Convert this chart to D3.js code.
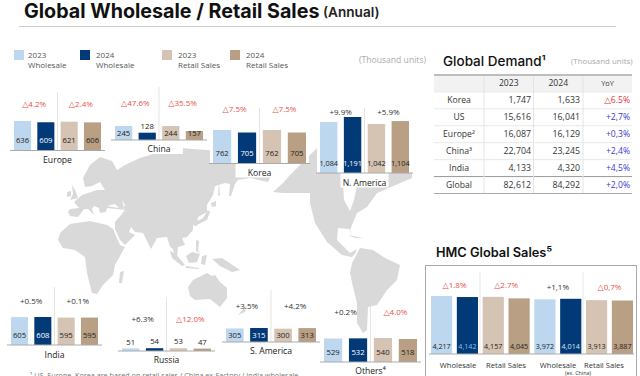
<!DOCTYPE html>
<html>
<head>
<meta charset="utf-8">
<script src="https://cdn.jsdelivr.net/npm/d3@7"></script>
<style>
  html, body { margin: 0; padding: 0; background: #fff; overflow: hidden; }
  text { font-family: "Open Sans", "DejaVu Sans", sans-serif; }
</style>
</head>
<body>
<div id="chart-area"></div>
<script>
// chart values
var seriesNames = ["2023 Wholesale", "2024 Wholesale", "2023 Retail Sales", "2024 Retail Sales"];
var seriesColors = ["#bdd7ee", "#023a78", "#d5c3b3", "#b99f84"];

var regionNames = ["Europe", "China", "Korea", "N. America", "India", "Russia", "S. America", "Others⁴"];
var wholesale2023 = [636, 245, 762, 1084, 605, 51, 305, 529];
var wholesale2024 = [609, 128, 705, 1191, 608, 54, 315, 532];
var retail2023 = [621, 244, 762, 1042, 595, 53, 300, 540];
var retail2024 = [606, 157, 705, 1104, 595, 47, 313, 518];
var wholesaleYoY = ["△4.2%", "△47.6%", "△7.5%", "+9.9%", "+0.5%", "+6.3%", "+3.5%", "+0.2%"];
var retailYoY = ["△2.4%", "△35.5%", "△7.5%", "+5.9%", "+0.1%", "△12.0%", "+4.2%", "△4.0%"];

var demandRows = ["Korea", "US", "Europe²", "China³", "India", "Global"];
var demand2023 = [1747, 15616, 16087, 22704, 4133, 82612];
var demand2024 = [1633, 16041, 16129, 23245, 4320, 84292];
var demandYoY = ["△6.5%", "+2,7%", "+0,3%", "+2,4%", "+4,5%", "+2,0%"];

var hmcLabels = ["Wholesale", "Retail Sales", "Wholesale", "Retail Sales"];
var hmc2023 = [4217, 4157, 3972, 3913];
var hmc2024 = [4142, 4045, 4014, 3887];
var hmcYoY = ["△1.8%", "△2.7%", "+1,1%", "△0,7%"];

// layout of each little panel: left/right edge, baseline, tallest bar, label spot
var panelLayout = [
  {x0: 14, x1: 101, base: 150.5, h: 29.5, top: 92, labelUp: 10, yoy: 104.5, name: 159.5},
  {x0: 115, x1: 203, base: 140, h: 14, top: 87, labelUp: 7, yoy: 103.5, name: 149},
  {x0: 213, x1: 306, base: 163.5, h: 33.5, top: 108, labelUp: 10, yoy: 109, name: 172.5},
  {x0: 320, x1: 409, base: 173, h: 56, top: 108, labelUp: 10, yoy: 112, name: 182.5},
  {x0: 11, x1: 98, base: 345, h: 28, top: 287, labelUp: 10, yoy: 300.7, name: 354.5},
  {x0: 122, x1: 211, base: 351, h: 2.8, top: 298, labelUp: 10, yoy: 319, name: 359.5},
  {x0: 226, x1: 316, base: 342, h: 14, top: 290, labelUp: 7, yoy: 305.7, name: 351},
  {x0: 324, x1: 417, base: 362, h: 24, top: 305, labelUp: 10, yoy: 311.7, name: 370.5}
];

// background map, traced by hand in page pixels
var land = [
  // Eurasia
  [[68,212],[70,209],[79,208],[74,202],[82,195],[88,193],[97,190],[105,190],[100,182],[92,186],[85,187],[83,178],[90,165],[100,157],[112,161],[117,170],[125,165],[140,158],[160,152],[180,148],[207,150],[260,155],[273,170],[268,182],[250,178],[238,180],[235,184],[231,196],[229,196],[230,184],[225,183],[215,186],[213,195],[207,205],[207,212],[198,217],[197,226],[193,224],[193,230],[187,237],[182,238],[185,245],[178,247],[177,258],[172,248],[170,247],[167,237],[157,238],[151,249],[143,233],[135,232],[131,227],[129,232],[135,235],[125,245],[120,240],[115,229],[115,222],[121,215],[125,210],[107,208],[105,214],[100,213],[99,208],[94,206],[92,209],[94,215],[88,209],[84,209],[78,217],[70,216]],
  // Africa
  [[60,233],[70,224],[90,221],[107,225],[113,229],[120,245],[125,247],[115,265],[113,275],[103,285],[97,294],[92,293],[87,273],[85,257],[75,250],[63,248],[58,240]],
  [[72,185],[75,190],[78,198],[70,200],[73,194]],
  [[67,192],[71,191],[71,196],[67,197]],
  [[120,272],[124,271],[122,283],[119,283]],
  // Japan
  [[192,224],[203,218],[208,210],[210,212],[207,220],[195,226]],
  [[211,203],[216,201],[216,206],[212,207]],
  [[219,182],[220,196],[218,195]],
  // SE Asia
  [[170,251],[175,253],[185,265],[182,266],[172,258]],
  [[186,256],[192,252],[200,254],[197,262],[189,263]],
  [[186,266],[199,268],[199,269],[186,268]],
  [[196,240],[199,241],[198,250],[200,253],[196,251]],
  [[202,256],[207,255],[205,265],[201,264]],
  [[212,259],[222,258],[240,270],[232,272],[220,266]],
  // Australia
  [[188,287],[193,280],[207,273],[212,276],[215,275],[220,282],[227,288],[227,298],[220,307],[210,299],[195,300],[190,296]],
  [[238,315],[247,305],[245,312]],
  // N. America
  [[273,192],[283,183],[290,175],[300,165],[320,145],[412,150],[412,178],[377,193],[372,200],[367,207],[357,213],[350,230],[353,237],[349,229],[338,228],[337,240],[350,253],[357,249],[355,254],[352,257],[342,255],[327,242],[315,223],[310,203],[310,193],[297,193],[283,193]],
  [[348,235],[363,238],[355,238]],
  // S. America
  [[352,263],[360,248],[373,250],[385,258],[400,265],[397,280],[387,290],[377,305],[368,307],[367,330],[363,333],[357,323],[357,303],[353,287],[350,273]]
];
// inland water, drawn in white
var water = [
  [[343,183],[357,186],[354,200],[350,211],[344,200]],
  [[121,213],[124,208],[122,200],[125,205]],
  [[86,215],[106,212],[113,220],[104,222]],
  [[107,206],[115,204],[119,208]]
];

var width = 640;
var height = 376;

var svg = d3.select("#chart-area")
  .append("svg")
  .attr("width", width)
  .attr("height", height)
  .style("display", "block");

// title
svg.append("text").attr("x", 24).attr("y", 17.5)
  .attr("font-size", "19.7px").attr("font-weight", 700).attr("fill", "#111")
  .style("font-family", "Inter").text("Global Wholesale / Retail Sales");
svg.append("text").attr("x", 323).attr("y", 17)
  .attr("font-size", "13.6px").attr("font-weight", 600).attr("fill", "#222")
  .style("font-family", "Inter").text("(Annual)");
svg.append("line").attr("x1", 19).attr("x2", 616).attr("y1", 26.5).attr("y2", 26.5)
  .attr("stroke", "#ccc");

// map
var landLine = d3.line().curve(d3.curveLinearClosed);
svg.append("g").selectAll("path").data(land).enter().append("path")
  .attr("d", landLine).attr("fill", "#d9d9d9");
svg.append("g").selectAll("path").data(water).enter().append("path")
  .attr("d", landLine).attr("fill", "#fff");

// legend
var legendX = [14, 80, 162, 230];
var legendTextX = [14, 16, 16, 16];
var legend = svg.append("g").selectAll("g").data(seriesNames).enter().append("g")
  .attr("transform", (d, i) => "translate(" + legendX[i] + ",50)");
legend.append("rect").attr("width", 10).attr("height", 10)
  .attr("fill", (d, i) => seriesColors[i]);
legend.append("text").attr("x", (d, i) => legendTextX[i]).attr("y", 8).attr("font-size", "8px").attr("fill", "#555")
  .text(d => d.slice(0, 4));
legend.append("text").attr("x", (d, i) => legendTextX[i]).attr("y", 18).attr("font-size", "8px").attr("fill", "#555")
  .text(d => d.slice(5));

svg.append("text").attr("x", 359).attr("y", 63).attr("font-size", "8.6px").attr("fill", "#aaa")
  .text("(Thousand units)");

function yoyColor(s) {
  return s.charAt(0) === "△" ? "#e8504a" : "#333";
}

// one panel per region
regionNames.forEach((name, i) => {
  var p = panelLayout[i];
  var values = [wholesale2023[i], wholesale2024[i], retail2023[i], retail2024[i]];
  var g = svg.append("g").attr("class", "panel");

  var x = d3.scaleBand().domain(seriesNames).range([p.x0, p.x1]).paddingInner(0.27);
  var y = d3.scaleLinear().domain([0, d3.max(values)]).range([p.base, p.base - p.h]);
  var mid = (p.x0 + p.x1) / 2;

  // white patch that sits on the map
  g.append("rect").attr("x", p.x0 - 3).attr("width", p.x1 - p.x0 + 6)
    .attr("y", p.base - p.h).attr("height", p.h)
    .attr("fill", "#fff");
  g.append("rect").attr("x", mid - 24).attr("width", 48)
    .attr("y", p.base).attr("height", p.name + 5 - p.base)
    .attr("fill", "#fff");

  g.append("line").attr("x1", mid).attr("x2", mid).attr("y1", p.top).attr("y2", p.base)
    .attr("stroke", "#d8d8d8").attr("stroke-width", 0.7);

  g.selectAll("rect.bar").data(values).enter().append("rect")
    .attr("class", "bar")
    .attr("x", (d, j) => x(seriesNames[j]))
    .attr("y", d => y(d))
    .attr("width", x.bandwidth())
    .attr("height", d => p.base - y(d))
    .attr("fill", (d, j) => seriesColors[j]);

  g.append("line").attr("x1", p.x0 - 4).attr("x2", p.x1 + 4).attr("y1", p.base).attr("y2", p.base)
    .attr("stroke", "#aaa");

  g.selectAll("text.val").data(values).enter().append("text")
    .attr("class", "val")
    .attr("x", (d, j) => x(seriesNames[j]) + x.bandwidth() / 2)
    .attr("y", d => {
      var barH = p.base - y(d);
      return p.base - (barH < 8 ? barH + 6.5 : p.labelUp);
    })
    .attr("dy", "0.35em")
    .attr("text-anchor", "middle")
    .attr("font-size", d => d >= 1000 ? "7.3px" : "7.7px")
    .attr("fill", (d, j) => (j === 1 && p.base - y(d) >= 8) ? "#fff" : "#222")
    .text(d3.format(","));

  [wholesaleYoY[i], retailYoY[i]].forEach((s, j) => {
    g.append("text")
      .attr("x", j === 0 ? (x(seriesNames[0]) + x(seriesNames[1]) + x.bandwidth()) / 2
                         : (x(seriesNames[2]) + x(seriesNames[3]) + x.bandwidth()) / 2)
      .attr("y", p.yoy).attr("dy", "0.35em")
      .attr("text-anchor", "middle").attr("font-size", "8px")
      .attr("fill", yoyColor(s)).text(s);
  });

  g.append("text").attr("x", mid).attr("y", p.name).attr("dy", "0.35em")
    .attr("text-anchor", "middle").attr("font-size", "8.6px")
    .attr("fill", "#222").text(name);
});

// Global Demand table
svg.append("text").attr("x", 443).attr("y", 66).attr("font-size", "13.5px").attr("font-weight", 500)
  .attr("fill", "#111").style("font-family", "Inter").text("Global Demand¹");
svg.append("text").attr("x", 571).attr("y", 64).attr("font-size", "7.9px").attr("fill", "#aaa")
  .text("(Thousand units)");

var colEdges = [434, 484, 533.5, 583, 632];
var rowY = d3.scaleBand().domain(["head"].concat(demandRows)).range([75, 193.5]);
var table = svg.append("g");

table.append("rect").attr("x", 434).attr("y", 75).attr("width", 198).attr("height", rowY.bandwidth())
  .attr("fill", "#f2f2f2");
table.selectAll("line.row").data(demandRows).enter().append("line").attr("class", "row")
  .attr("x1", 434).attr("x2", 632)
  .attr("y1", d => rowY(d)).attr("y2", d => rowY(d))
  .attr("stroke", d => d === "Global" ? "#999" : "#e8e8e8");
table.selectAll("line.col").data(colEdges.slice(1, 4)).enter().append("line").attr("class", "col")
  .attr("x1", d => d).attr("x2", d => d).attr("y1", 75).attr("y2", 193.5)
  .attr("stroke", "#e4e4e4");
table.append("line").attr("x1", 434).attr("x2", 632).attr("y1", 75).attr("y2", 75)
  .attr("stroke", "#aaa").attr("stroke-width", 1.3);
table.append("line").attr("x1", 434).attr("x2", 632).attr("y1", 193.5).attr("y2", 193.5)
  .attr("stroke", "#aaa").attr("stroke-width", 1.2);

var rowMid = d => rowY(d) + rowY.bandwidth() / 2;
["2023", "2024"].forEach((t, i) => {
  table.append("text").attr("x", (colEdges[i + 1] + colEdges[i + 2]) / 2).attr("y", rowMid("head"))
    .attr("dy", "0.35em").attr("text-anchor", "middle").attr("font-size", "8.6px").attr("fill", "#333").text(t);
});
table.append("text").attr("x", 607.5).attr("y", rowMid("head")).attr("dy", "0.35em")
  .attr("text-anchor", "middle").attr("font-size", "7.4px").attr("fill", "#333").text("YoY");

demandRows.forEach((r, i) => {
  table.append("text").attr("x", 459).attr("y", rowMid(r)).attr("dy", "0.35em")
    .attr("text-anchor", "middle").attr("font-size", "8.6px").attr("fill", "#333").text(r);
  table.append("text").attr("x", 531).attr("y", rowMid(r)).attr("dy", "0.35em")
    .attr("text-anchor", "end").attr("font-size", "8.8px").attr("fill", "#333").text(d3.format(",")(demand2023[i]));
  table.append("text").attr("x", 580).attr("y", rowMid(r)).attr("dy", "0.35em")
    .attr("text-anchor", "end").attr("font-size", "8.8px").attr("fill", "#333").text(d3.format(",")(demand2024[i]));
  table.append("text").attr("x", 630).attr("y", rowMid(r)).attr("dy", "0.35em")
    .attr("text-anchor", "end").attr("font-size", "8.6px")
    .attr("fill", demandYoY[i].charAt(0) === "△" ? "#e8333a" : "#3a3ad0").text(demandYoY[i]);
});

// HMC Global Sales
svg.append("text").attr("x", 436).attr("y", 257).attr("font-size", "12.8px").attr("font-weight", 600)
  .attr("fill", "#111").style("font-family", "Inter").text("HMC Global Sales⁵");
svg.append("rect").attr("x", 425.5).attr("y", 265.5).attr("width", 211).attr("height", 130)
  .attr("fill", "#fff").attr("stroke", "#aaa");

var hmcBase = 354;
var hmcValues = [];
hmc2023.forEach((d, i) => {
  hmcValues.push(d, hmc2024[i]);
});
var hmcX = d3.scaleBand().domain(d3.range(hmcValues.length)).range([431, 633]).paddingInner(0.18);
var hmcY = d3.scaleLinear().domain([0, d3.max(hmcValues)]).range([hmcBase, hmcBase - 58]);
var hmc = svg.append("g");

[480, 583].forEach(d => {
  hmc.append("line").attr("x1", d).attr("x2", d).attr("y1", 272).attr("y2", hmcBase)
    .attr("stroke", "#ddd").attr("stroke-width", 0.7);
});
hmc.selectAll("rect").data(hmcValues).enter().append("rect")
  .attr("x", (d, i) => hmcX(i))
  .attr("y", d => hmcY(d))
  .attr("width", hmcX.bandwidth())
  .attr("height", d => hmcBase - hmcY(d))
  .attr("fill", (d, i) => i % 2 === 0 ? (i % 4 === 0 ? seriesColors[0] : seriesColors[2])
                                      : (i % 4 === 1 ? seriesColors[1] : seriesColors[3]));
hmc.append("line").attr("x1", 429).attr("x2", 634).attr("y1", hmcBase).attr("y2", hmcBase).attr("stroke", "#aaa");
hmc.selectAll("text.val").data(hmcValues).enter().append("text").attr("class", "val")
  .attr("x", (d, i) => hmcX(i) + hmcX.bandwidth() / 2)
  .attr("y", 346).attr("dy", "0.35em").attr("text-anchor", "middle").attr("font-size", "7.2px")
  .attr("fill", (d, i) => i === 1 ? "#8fbde6" : i % 4 === 1 ? "#d6e6f5" : "#222")
  .text(d3.format(","));

var hmcYoyY = [285, 285, 287, 287];
hmcYoY.forEach((s, i) => {
  hmc.append("text").attr("x", (hmcX(i * 2) + hmcX(i * 2 + 1) + hmcX.bandwidth()) / 2)
    .attr("y", hmcYoyY[i]).attr("dy", "0.35em").attr("text-anchor", "middle").attr("font-size", "8px")
    .attr("fill", yoyColor(s)).text(s);
});
var hmcLabelX = [458, 506, 558, 604];
hmcLabels.forEach((s, i) => {
  hmc.append("text").attr("x", hmcLabelX[i]).attr("y", 365).attr("dy", "0.35em")
    .attr("text-anchor", "middle").attr("font-size", "7.6px").attr("fill", "#333").text(s);
});
hmc.append("text").attr("x", 578).attr("y", 373.5).attr("dy", "0.35em")
  .attr("text-anchor", "middle").attr("font-size", "5.4px").attr("fill", "#333").text("(ex. China)");

// footnote, cut off by the bottom edge
svg.append("text").attr("x", 30).attr("y", 378).attr("font-size", "7.2px").attr("fill", "#777")
  .text("¹ US, Europe, Korea are based on retail sales / China ex-Factory / India wholesale");
</script>
</body>
</html>
